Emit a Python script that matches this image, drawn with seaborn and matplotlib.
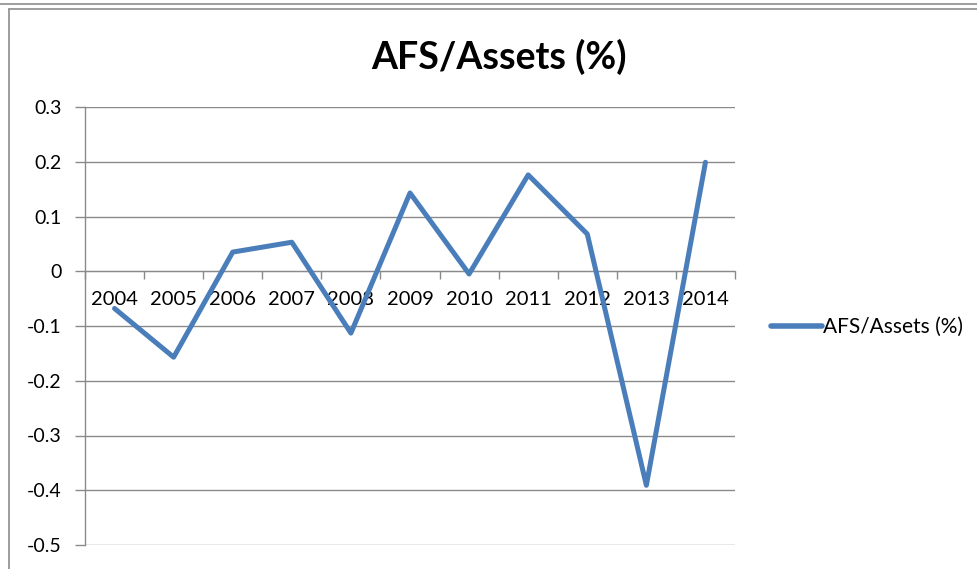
import matplotlib
matplotlib.use("Agg")
import matplotlib.pyplot as plt
from matplotlib.lines import Line2D
import seaborn as sns
import pandas as pd
import numpy as np

years = ["2004", "2005", "2006", "2007", "2008", "2009", "2010", "2011", "2012", "2013", "2014"]
values = [-0.068, -0.157, 0.035, 0.053, -0.113, 0.143, -0.005, 0.176, 0.068, -0.391, 0.199]
series_name = "AFS/Assets (%)"
y_ticks = [0.3, 0.2, 0.1, 0, -0.1, -0.2, -0.3, -0.4, -0.5]
y_tick_labels = ["0.3", "0.2", "0.1", "0", "-0.1", "-0.2", "-0.3", "-0.4", "-0.5"]

sns.set_style("white")
plt.rcParams["font.family"] = ["Lato", "DejaVu Sans"]
plt.rcParams["text.color"] = "black"
plt.rcParams["xtick.labelcolor"] = "black"
plt.rcParams["ytick.labelcolor"] = "black"

df = pd.DataFrame({"pos": np.arange(len(years)), "value": values, "series": series_name})

fig = plt.figure(figsize=(9.77, 5.69), dpi=100)
ax = fig.add_axes([85 / 977, 1 - 545 / 569, (735 - 85) / 977, (545 - 107) / 569])

grid_col = "#8a8a8a"
line_col = "#4A7EBB"

# spine placement first (it resets tick settings)
for s in ["top", "right"]:
    ax.spines[s].set_visible(False)
ax.spines["bottom"].set_position(("data", 0))
ax.spines["bottom"].set_color(grid_col)
ax.spines["left"].set_color(grid_col)
ax.spines["left"].set_linewidth(1.0)

sns.lineplot(data=df, x="pos", y="value", hue="series", palette=[line_col],
             linewidth=3.6, ax=ax, legend=True, zorder=3)

ax.set_ylim(-0.5, 0.3)
ax.set_xlim(-0.5, len(years) - 0.5)
ax.set_yticks(y_ticks)
ax.set_yticklabels(y_tick_labels, fontsize=14)
for y in y_ticks:
    ax.axhline(y, color=grid_col, lw=1.0, zorder=1)

ax.set_xticks(np.arange(len(years)))
ax.set_xticklabels(years, fontsize=14.5)
ax.set_xticks(np.arange(-0.5, len(years)), minor=True)
ax.tick_params(axis="x", which="major", bottom=True, length=0, pad=14, labelsize=14.5, labelcolor="black")
ax.tick_params(axis="x", which="minor", bottom=True, length=6, width=1, color=grid_col, direction="out")
ax.tick_params(axis="y", which="major", left=True, length=7, width=1, color=grid_col, direction="out",
               pad=10, labelcolor="black")
ax.set_xlabel("")
ax.set_ylabel("")

fig.suptitle(series_name, x=499 / 977, y=1 - 57 / 569, va="center", fontsize=27,
             fontweight="bold", color="black")

leg = ax.legend(loc="center left", bbox_to_anchor=(763 / 977, 1 - 327 / 569),
                bbox_transform=fig.transFigure, frameon=False, fontsize=15,
                handlelength=2.45, handletextpad=0.05, borderaxespad=0)
for h in leg.get_lines():
    h.set_linewidth(4)
for t in leg.get_texts():
    t.set_color("black")

# chart frame (screenshot border)
border = "#8c8c8c"
fig.add_artist(Line2D([0, 1], [1 - 4 / 569, 1 - 4 / 569], color=border, lw=1.2, transform=fig.transFigure))
fig.add_artist(Line2D([9 / 977, 1], [1 - 9 / 569, 1 - 9 / 569], color=border, lw=1.2, transform=fig.transFigure))
fig.add_artist(Line2D([9 / 977, 9 / 977], [0, 1 - 9 / 569], color=border, lw=1.2, transform=fig.transFigure))

fig.savefig("out.png", dpi=100)
